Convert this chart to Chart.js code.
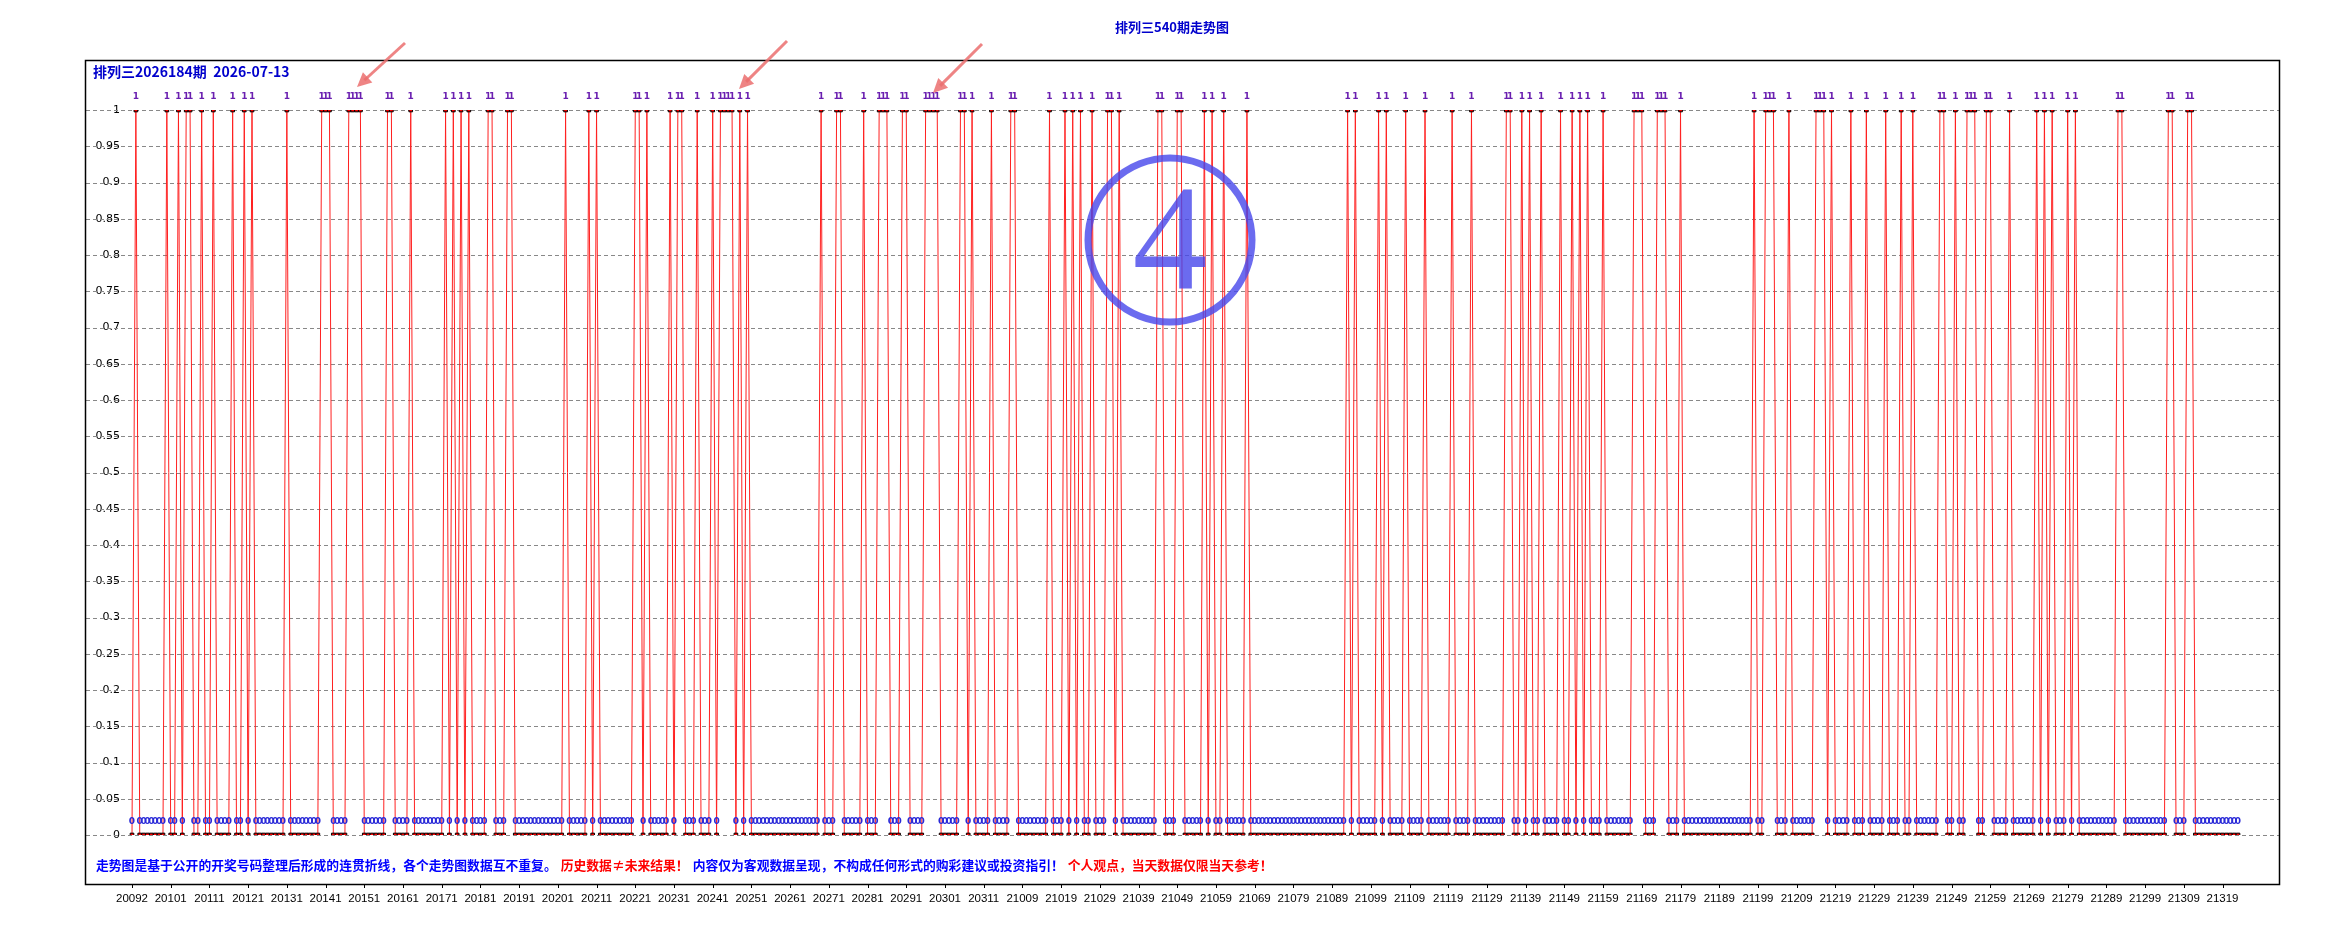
<!DOCTYPE html>
<html>
<head>
<meta charset="utf-8">
<script src="https://cdn.jsdelivr.net/npm/chart.js@4"></script>
<style>
  body { margin: 0; background: #fff; }
</style>
</head>
<body>
<canvas id="trendChart" width="2350" height="925"></canvas>
<script>
// period labels shown every 10 points
const tickLabels = ["20092","20101","20111","20121","20131","20141","20151","20161","20171","20181",
  "20191","20201","20211","20221","20231","20241","20251","20261","20271","20281","20291","20301","20311",
  "21009","21019","21029","21039","21049","21059","21069","21079","21089","21099","21109","21119","21129",
  "21139","21149","21159","21169","21179","21189","21199","21209","21219","21229","21239","21249","21259",
  "21269","21279","21289","21299","21309","21319"];

// 1 = digit appeared in that period
const hits = [
  0,1,0,0,0,0,0,0,0,1, 0,0,1,0,1,1,0,0,1,0, 0,1,0,0,0,0,1,0,0,1, 0,1,0,0,0,0,0,0,0,0, 1,0,0,0,0,0,0,0,0,1,
  1,1,0,0,0,0,1,1,1,1, 0,0,0,0,0,0,1,1,0,0, 0,0,1,0,0,0,0,0,0,0, 0,1,0,1,0,1,0,1,0,0, 0,0,1,1,0,0,0,1,1,0,
  0,0,0,0,0,0,0,0,0,0, 0,0,1,0,0,0,0,0,1,0, 1,0,0,0,0,0,0,0,0,0, 1,1,0,1,0,0,0,0,0,1, 0,1,1,0,0,0,1,0,0,0,
  1,0,1,1,1,1,0,1,0,1, 0,0,0,0,0,0,0,0,0,0, 0,0,0,0,0,0,0,0,1,0, 0,0,1,1,0,0,0,0,0,1, 0,0,0,1,1,1,0,0,0,1,
  1,0,0,0,0,1,1,1,1,0, 0,0,0,0,1,1,0,1,0,0, 0,0,1,0,0,0,0,1,1,0, 0,0,0,0,0,0,0,1,0,0, 0,1,0,1,0,1,0,0,1,0,
  0,0,1,1,0,1,0,0,0,0, 0,0,0,0,0,1,1,0,0,0, 1,1,0,0,0,0,0,1,0,1, 0,0,1,0,0,0,0,0,1,0, 0,0,0,0,0,0,0,0,0,0,
  0,0,0,0,0,0,0,0,0,0, 0,0,0,0,1,0,1,0,0,0, 0,0,1,0,1,0,0,0,0,1, 0,0,0,0,1,0,0,0,0,0, 0,1,0,0,0,0,1,0,0,0,
  0,0,0,0,0,1,1,0,0,1, 0,1,0,0,1,0,0,0,0,1, 0,0,1,0,1,0,1,0,0,0, 1,0,0,0,0,0,0,0,1,1, 1,0,0,0,1,1,1,0,0,0,
  1,0,0,0,0,0,0,0,0,0, 0,0,0,0,0,0,0,0,0,1, 0,0,1,1,1,0,0,0,1,0, 0,0,0,0,0,1,1,1,0,1, 0,0,0,0,1,0,0,0,1,0,
  0,0,0,1,0,0,0,1,0,0, 1,0,0,0,0,0,0,1,1,0, 0,1,0,0,1,1,1,0,0,1, 1,0,0,0,0,1,0,0,0,0, 0,0,1,0,1,0,1,0,0,0,
  1,0,1,0,0,0,0,0,0,0, 0,0,0,1,1,0,0,0,0,0, 0,0,0,0,0,0,1,1,0,0, 0,1,1,0,0,0,0,0,0,0, 0,0,0,0,0
];
const categories = hits.map((v, i) => i);

const footer = [
  ["走势图是基于公开的开奖号码整理后形成的连贯折线，各个走势图数据互不重复。", "#0000ff"],
  ["历史数据≠未来结果！", "#ff0000"],
  ["内容仅为客观数据呈现，不构成任何形式的购彩建议或投资指引！", "#0000ff"],
  ["个人观点，当天数据仅限当天参考！", "#ff0000"]
];

const decor = {
  id: "decor",
  beforeDatasetsDraw(chart) {
    const { ctx, scales: { y } } = chart;
    ctx.save();
    ctx.strokeStyle = "#888";
    ctx.lineWidth = 1;
    ctx.setLineDash([4, 3]);
    y.ticks.forEach((t) => {
      const py = Math.round(y.getPixelForValue(t.value)) + 0.5;
      ctx.beginPath();
      ctx.moveTo(86, py);
      ctx.lineTo(2279, py);
      ctx.stroke();
    });
    ctx.restore();
  },
  afterDatasetsDraw(chart) {
    const { ctx, scales: { x, y } } = chart;
    ctx.save();
    // value labels
    ctx.font = "bold 9px 'DejaVu Sans'";
    ctx.textAlign = "center";
    ctx.textBaseline = "bottom";
    hits.forEach((v, i) => {
      const px = x.getPixelForValue(i);
      if (v === 1) {
        ctx.fillStyle = "#6a1fb0";
        ctx.fillText("1", px, y.getPixelForValue(1) - 9);
      } else {
        ctx.fillStyle = "#2a2ad8";
        ctx.fillText("0", px, y.getPixelForValue(0) - 9);
      }
    });
    // frame
    ctx.strokeStyle = "#000";
    ctx.lineWidth = 1.5;
    ctx.strokeRect(85.5, 60.5, 2194, 824);
    // x tick marks below frame
    ctx.lineWidth = 1;
    for (let i = 0; i < tickLabels.length; i++) {
      const px = Math.round(x.getPixelForValue(i * 10)) + 0.5;
      ctx.beginPath();
      ctx.moveTo(px, 885);
      ctx.lineTo(px, 888);
      ctx.stroke();
    }
    // titles
    ctx.fillStyle = "#0000cc";
    ctx.font = "bold 13px 'Noto Sans CJK SC'";
    ctx.textAlign = "center";
    ctx.textBaseline = "middle";
    ctx.fillText("排列三540期走势图", 1172, 27);
    ctx.textAlign = "left";
    ctx.font = "bold 14px 'Noto Sans CJK SC'";
    ctx.fillText("排列三2026184期  2026-07-13", 93, 72);
    // footer
    let fx = 96;
    ctx.font = "bold 12.8px 'Noto Sans CJK SC'";
    footer.forEach(([txt, col]) => {
      ctx.fillStyle = col;
      ctx.fillText(txt, fx, 865);
      fx += ctx.measureText(txt).width + 4;
    });
    // circled digit watermark
    ctx.strokeStyle = "rgba(70,70,235,0.8)";
    ctx.fillStyle = "rgba(70,70,235,0.8)";
    ctx.lineWidth = 7;
    ctx.beginPath();
    ctx.arc(1170, 240, 82, 0, Math.PI * 2);
    ctx.stroke();
    ctx.font = "150px 'Liberation Serif'";
    ctx.textAlign = "center";
    ctx.fillText("4", 1170, 250);
    // arrows
    const arrows = [[405, 43, 357, 87], [787, 41, 739, 89], [982, 44, 933, 93]];
    ctx.strokeStyle = "rgba(235,110,110,0.85)";
    ctx.fillStyle = "rgba(235,110,110,0.85)";
    ctx.lineWidth = 3;
    arrows.forEach(([x1, y1, x2, y2]) => {
      const a = Math.atan2(y2 - y1, x2 - x1);
      ctx.beginPath();
      ctx.moveTo(x1, y1);
      ctx.lineTo(x2 - 10 * Math.cos(a), y2 - 10 * Math.sin(a));
      ctx.stroke();
      ctx.beginPath();
      ctx.moveTo(x2, y2);
      ctx.lineTo(x2 - 16 * Math.cos(a - 0.45), y2 - 16 * Math.sin(a - 0.45));
      ctx.lineTo(x2 - 16 * Math.cos(a + 0.45), y2 - 16 * Math.sin(a + 0.45));
      ctx.closePath();
      ctx.fill();
    });
    ctx.restore();
  }
};

new Chart(document.getElementById("trendChart"), {
  type: "line",
  data: {
    labels: categories,
    datasets: [{
      data: hits,
      borderColor: "#ff2020",
      borderWidth: 1,
      pointStyle: "rect",
      pointRadius: 2.6,
      pointBackgroundColor: "#ff0000",
      pointBorderColor: "#000",
      pointBorderWidth: 1,
      tension: 0
    }]
  },
  options: {
    responsive: false,
    animation: false,
    devicePixelRatio: 1,
    layout: { padding: { left: 0, right: 112, top: 110, bottom: 20 } },
    plugins: { legend: { display: false }, tooltip: { enabled: false } },
    scales: {
      x: {
        type: "category",
        offset: false,
        afterFit: (s) => { s.height = 70; },
        grid: { display: false, drawTicks: false },
        border: { display: false },
        ticks: {
          autoSkip: false,
          maxRotation: 0,
          padding: 57,
          color: "#000",
          font: { size: 11.5, family: "'Liberation Sans'" },
          callback: (v, i) => (i % 10 === 0 ? tickLabels[i / 10] : "")
        }
      },
      y: {
        min: 0,
        max: 1,
        afterFit: (s) => { s.width = 132; },
        grid: { display: false, drawTicks: false },
        border: { display: false },
        ticks: {
          stepSize: 0.05,
          padding: 12,
          color: "#000",
          font: { size: 11, family: "'DejaVu Sans'" },
          callback: (v) => Math.round(v * 100) / 100
        }
      }
    }
  },
  plugins: [decor]
});
</script>
</body>
</html>
